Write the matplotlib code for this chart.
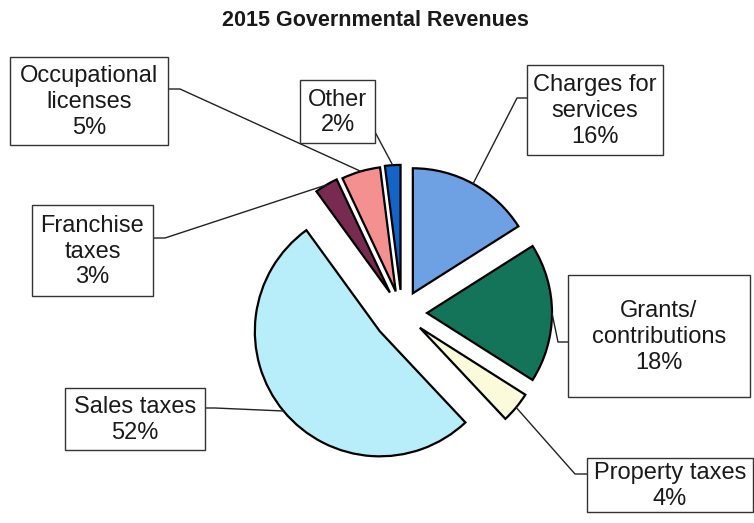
import matplotlib.pyplot as plt
import numpy as np
from matplotlib.patches import Rectangle

W, H = 754, 523

# data, clockwise from 12 o'clock
categories = [
    "Charges for\nservices",
    "Grants/\ncontributions",
    "Property taxes",
    "Sales taxes",
    "Franchise\ntaxes",
    "Occupational\nlicenses",
    "Other",
]
shares = [16, 18, 4, 52, 3, 5, 2]

COLORS = ["#6ea0e4", "#14745a", "#fbfbdc", "#b8edfa", "#782a50", "#f59090", "#1464c8"]
RADIUS = 125
# explode as a fraction of the radius (pie wants data units)
EXPLODE = [0.18, 0.2, 0.185, 0.23, 0.19, 0.18, 0.185]

# label boxes in image pixels: (left, top, right, bottom)
BOXES = [
    (527, 65, 663, 155),
    (568, 275, 750, 397),
    (587, 458, 753, 512),
    (65, 388, 205, 450),
    (32, 205, 153, 296),
    (10, 57, 168, 145),
    (300, 80, 375, 143),
]
# where the leader line meets the box, and the elbow point (image pixels)
LEADERS = [
    ((527, 98), (517, 98)),
    ((568, 342), (558, 342)),
    ((587, 474), (575, 474)),
    ((205, 408), (215, 408)),
    ((153, 238), (165, 238)),
    ((168, 89), (180, 89)),
    ((375, 132), (375, 132)),
]

plt.rcParams["font.family"] = ["Liberation Sans", "DejaVu Sans"]

fig = plt.figure(figsize=(W / 100, H / 100), dpi=100)
ax = fig.add_axes([0, 0, 1, 1])

wedges, _ = ax.pie(
    shares,
    colors=COLORS,
    explode=[e * RADIUS for e in EXPLODE],
    startangle=90,
    counterclock=False,
    center=(402, H - 313),
    radius=RADIUS,
    wedgeprops=dict(edgecolor="black", linewidth=1.6),
)

for w, cat, val, box, (anchor, elbow) in zip(wedges, categories, shares, BOXES, LEADERS):
    l, t, r, b = box
    ax.add_patch(
        Rectangle((l, H - b), r - l, b - t, facecolor="white", edgecolor="#333333",
                  linewidth=1.0, zorder=3)
    )
    ax.text((l + r) / 2, H - (t + b) / 2 - 1, f"{cat}\n{val}%", ha="center", va="center",
            fontsize=17, color="#1a1a1a", linespacing=1.22, zorder=4)

    mid = np.deg2rad((w.theta1 + w.theta2) / 2)
    cx, cy = w.center
    px, py = cx + w.r * np.cos(mid), cy + w.r * np.sin(mid)
    ax.plot([px, elbow[0], anchor[0]], [py, H - elbow[1], H - anchor[1]],
            color="#222222", linewidth=1.0, zorder=2)

ax.text(375, H - 21, "2015 Governmental Revenues", ha="center", va="center",
        fontsize=15.5, fontweight="bold", color="#1a1a1a")

ax.set_xlim(0, W)
ax.set_ylim(0, H)
ax.set_aspect("auto")
ax.axis("off")

fig.savefig("out.png", dpi=100)
